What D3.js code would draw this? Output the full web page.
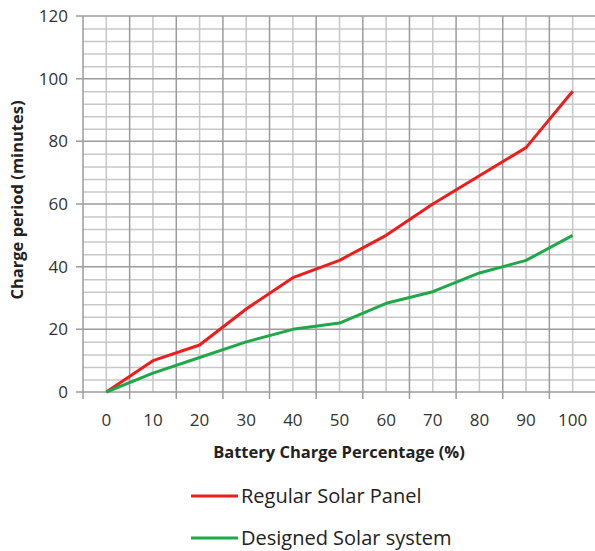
<!DOCTYPE html>
<html><head><meta charset="utf-8">
<script src="https://cdn.jsdelivr.net/npm/d3@7"></script>
<style>body{margin:0;background:#fff}svg{display:block}</style>
</head><body>
<script>
const categories = [0,10,20,30,40,50,60,70,80,90,100];
const regular = [0,10,15,26.5,36.5,42,50,60,69,78,96];
const designed = [0,6,11,16,20,22,28.3,32,38,42,50];
const yTicks = [0,20,40,60,80,100,120];
const seriesNames = ["Regular Solar Panel","Designed Solar system"];
const seriesColors = ["#ee1c1c","#1fa84a"];

const W=595,H=551;
const svg=d3.select("body").append("svg").attr("width",W).attr("height",H);
const font="'Open Sans', sans-serif";
const x=d3.scaleLinear().domain([-5,105]).range([83,596]);
const y=d3.scaleLinear().domain([0,120]).range([392,16]);

const g=svg.append("g");
g.selectAll(".hm").data(d3.range(0,121,4).filter(v=>v%20)).join("line")
 .attr("x1",x(-5)).attr("x2",x(105)).attr("y1",d=>y(d)+0.5).attr("y2",d=>y(d)+0.5)
 .attr("stroke","#c8c8c8").attr("stroke-width",1.5);
g.selectAll(".vm").data(categories).join("line")
 .attr("y1",y(120)).attr("y2",y(0)).attr("x1",d=>x(d)).attr("x2",d=>x(d))
 .attr("stroke","#c8c8c8").attr("stroke-width",1.5);
g.selectAll(".vM").data(d3.range(5,100,10)).join("line")
 .attr("y1",y(120)).attr("y2",y(0)+7).attr("x1",d=>x(d)).attr("x2",d=>x(d))
 .attr("stroke","#9c9c9c").attr("stroke-width",1.5);
g.selectAll(".hM").data(yTicks).join("line")
 .attr("x1",x(-5)-7).attr("x2",x(105)).attr("y1",d=>y(d)).attr("y2",d=>y(d))
 .attr("stroke","#9c9c9c").attr("stroke-width",1.5);
g.append("line").attr("x1",x(-5)).attr("x2",x(-5)).attr("y1",y(120)).attr("y2",y(0)+7)
 .attr("stroke","#9c9c9c").attr("stroke-width",1.5);

svg.selectAll(".yt").data(yTicks).join("text")
 .attr("x",68).attr("y",d=>y(d)).attr("dy","0.35em").attr("text-anchor","end")
 .attr("font-family",font).attr("font-size",17).attr("fill","#333").text(d=>d);
svg.selectAll(".xt").data(categories).join("text")
 .attr("x",d=>x(d)).attr("y",426).attr("text-anchor","middle")
 .attr("font-family",font).attr("font-size",17).attr("fill","#333").text(d=>d);

svg.append("text").attr("x",339).attr("y",458).attr("text-anchor","middle")
 .attr("font-family",font).attr("font-size",16.5).attr("font-weight","bold").attr("fill","#222")
 .text("Battery Charge Percentage (%)");
svg.append("text").attr("transform","translate(23,200) rotate(-90)").attr("text-anchor","middle")
 .attr("font-family",font).attr("font-size",16.5).attr("font-weight","bold").attr("fill","#222")
 .text("Charge period (minutes)");

const line=d3.line().x((d,i)=>x(categories[i])).y(d=>y(d));
[regular,designed].forEach((s,k)=>{
 svg.append("path").datum(s).attr("d",line).attr("fill","none")
  .attr("stroke",seriesColors[k]).attr("stroke-width",3).attr("stroke-linejoin","round");
});

seriesNames.forEach((n,k)=>{
 const ly=496+k*42;
 svg.append("line").attr("x1",191).attr("x2",238).attr("y1",ly).attr("y2",ly)
  .attr("stroke",seriesColors[k]).attr("stroke-width",3);
 svg.append("text").attr("x",241).attr("y",ly).attr("dy","0.35em")
  .attr("font-family",font).attr("font-size",20).attr("fill","#222").text(n);
});
</script>
</body></html>
